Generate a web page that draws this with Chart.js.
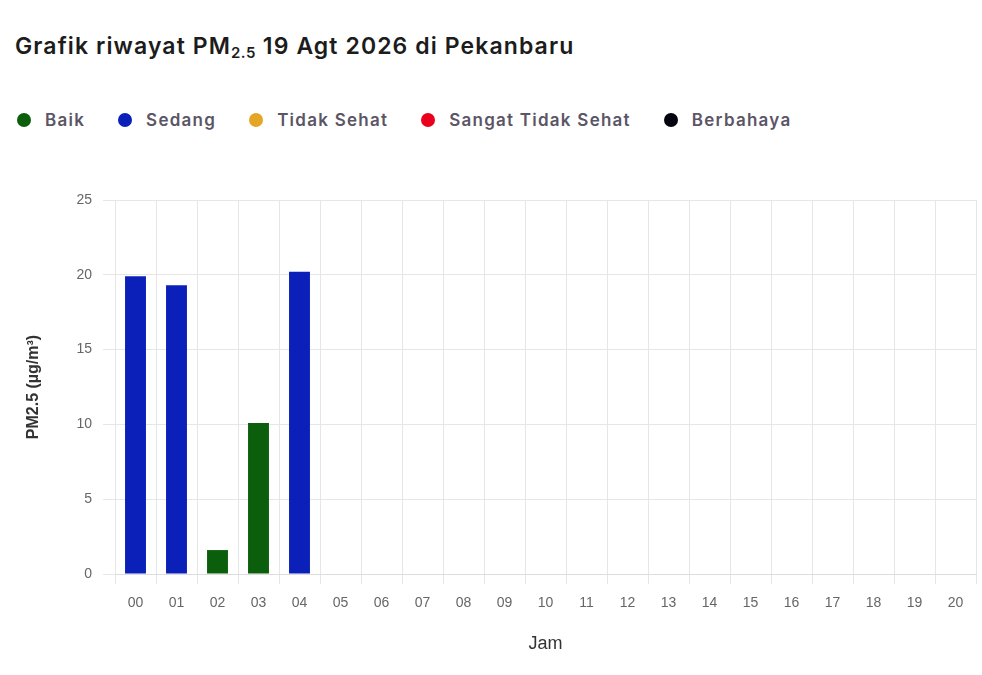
<!DOCTYPE html>
<html>
<head>
<meta charset="utf-8">
<script src="https://cdn.jsdelivr.net/npm/chart.js@4.4.1/dist/chart.umd.min.js"></script>
<style>
  html, body { margin: 0; padding: 0; background: #fff; }
  body { width: 982px; height: 675px; position: relative; overflow: hidden; font-family: "Inter", "Noto Sans", sans-serif; }
  #judul { position: absolute; left: 15px; top: 32px; font-size: 23px; font-weight: 600; color: #1c1c1c; letter-spacing: 1.1px; margin: 0; white-space: nowrap; }
  #judul sub { font-size: 15px; vertical-align: -4px; line-height: 0; letter-spacing: 0.5px; }
  #legenda { position: absolute; left: 17px; top: 110px; display: flex; font-size: 17px; font-weight: 600; color: #5b5566; letter-spacing: 1.25px; white-space: nowrap; }
  #legenda .item { display: flex; align-items: center; margin-right: 33px; }
  #legenda .dot { width: 14px; height: 14px; border-radius: 50%; margin-right: 14px; }
  #wadah { position: absolute; left: 0; top: 160px; width: 982px; height: 515px; }
</style>
</head>
<body>
<h1 id="judul">Grafik riwayat PM<sub>2.5</sub> 19 Agt 2026 di Pekanbaru</h1>
<div id="legenda"></div>
<div id="wadah"><canvas id="grafikPM"></canvas></div>
<script>
// Data jam dan nilai PM2.5 (hanya jam 00-04 yang ada nilainya)
const jam = ['00','01','02','03','04','05','06','07','08','09','10',
             '11','12','13','14','15','16','17','18','19','20'];
const nilaiPM = [19.9, 19.3, 1.6, 10.1, 20.2];
const kategori = ['Baik', 'Sedang', 'Tidak Sehat', 'Sangat Tidak Sehat', 'Berbahaya'];
const warnaKategori = ['#0b5e0b', '#0a20b8', '#e6a526', '#e8001c', '#050510'];
const batasKategori = [15.5, 55.5, 150.5, 250.5]; // batas atas Baik, Sedang, ...
const sumbuY = { min: 0, max: 25, step: 5 };

// legenda
const legenda = document.getElementById('legenda');
kategori.forEach((nama, i) => {
    const item = document.createElement('div');
    item.className = 'item';
    item.innerHTML = '<span class="dot" style="background:' + warnaKategori[i] + '"></span>' + nama;
    legenda.appendChild(item);
});

function warnaNilai(v) {
    let i = 0;
    while (i < batasKategori.length && v >= batasKategori[i]) i++;
    return warnaKategori[i];
}

const ctx = document.getElementById('grafikPM').getContext('2d');
new Chart(ctx, {
    type: 'bar',
    data: {
        labels: jam,
        datasets: [{
            label: 'PM2.5',
            data: nilaiPM,
            backgroundColor: nilaiPM.map(warnaNilai),
            borderWidth: 0,
            categoryPercentage: 1,
            barPercentage: 0.51
        }]
    },
    options: {
        responsive: true,
        maintainAspectRatio: false,
        animation: false,
        layout: { padding: { top: 40, right: 6, bottom: 0, left: 0 } },
        plugins: {
            legend: { display: false },
            tooltip: { enabled: false }
        },
        scales: {
            x: {
                grid: { color: '#e6e6e6', tickLength: 10, offset: true },
                border: { color: '#dcdcdc' },
                ticks: { color: '#666', padding: 11, font: { family: 'Liberation Sans', size: 14 } },
                title: {
                    display: true, text: 'Jam', color: '#333',
                    font: { family: 'Liberation Sans', size: 18 },
                    padding: { top: 0, bottom: 20 }
                },
                afterFit: s => { s.height = 101; }
            },
            y: {
                min: sumbuY.min,
                max: sumbuY.max,
                grid: { color: '#e6e6e6', tickLength: 12 },
                border: { color: '#e6e6e6' },
                ticks: { stepSize: sumbuY.step, color: '#666', padding: 11, font: { family: 'Liberation Sans', size: 14 } },
                title: {
                    display: true, text: 'PM2.5 (µg/m³)', color: '#333',
                    font: { family: 'Liberation Sans', size: 16, weight: 'bold' },
                    padding: { top: 24, bottom: 0 }
                },
                afterFit: s => { s.width = 115; }
            }
        }
    }
});
</script>
</body>
</html>
